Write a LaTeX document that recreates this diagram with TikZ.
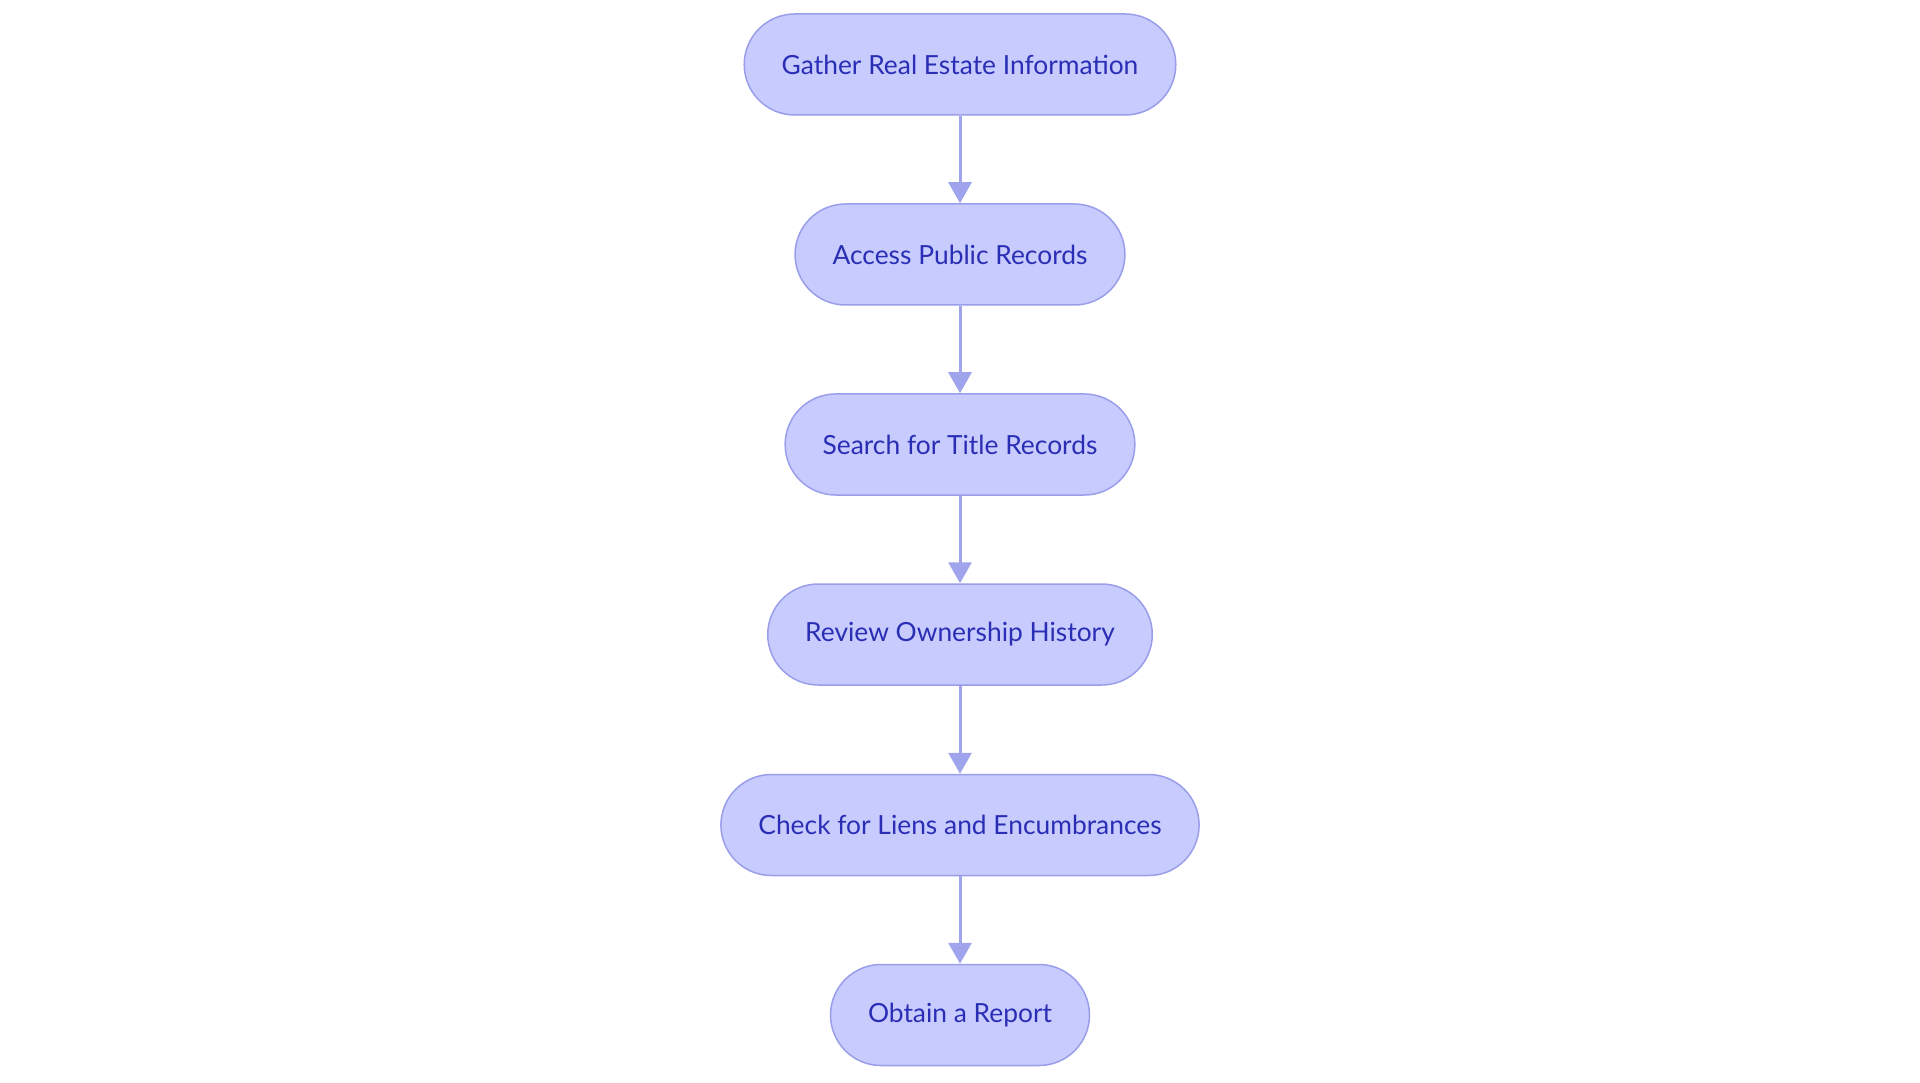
\documentclass[tikz,border=0pt]{standalone}
\usepackage{fontspec}
\setmainfont{Lato}
\usetikzlibrary{shapes, arrows.meta}

\definecolor{stepfill}{HTML}{C8CBFE}
\definecolor{stepdraw}{HTML}{9A9EEA}
\definecolor{steptext}{HTML}{2A2EB4}
\definecolor{steparrow}{HTML}{A0A4EC}

\begin{document}
\begin{tikzpicture}[
    text centered,
	pill/.style={
	  rectangle,
	  rounded corners=1.01cm,
	  minimum height=2.02cm,
	  inner xsep=0.75cm,
	  line width=0.03cm,
	  draw=stepdraw,
	  fill=stepfill,
	  text=steptext,
	  font=\fontsize{15}{18}\selectfont
	},
 	line/.style={draw, steparrow, line width=0.06cm, -{Triangle[width=0.46cm, length=0.42cm]}}
	]
	\useasboundingbox (0, 0) rectangle (38.4, -21.66);
    \node at (19.2, -1.29) [pill] (gather) {Gather Real Estate Information};
	\node at (19.2, -5.09) [pill] (access) {Access Public Records};
	\node at (19.2, -8.89) [pill] (search) {Search for Title Records};
	\node at (19.2, -12.69) [pill] (review) {Review Ownership History};
	\node at (19.2, -16.5) [pill] (check) {Check for Liens and Encumbrances};
	\node at (19.2, -20.3) [pill] (obtain) {Obtain a Report};
	\path[line] (gather) -- (access);
	\path[line] (access) -- (search);
	\path[line] (search) -- (review);
	\path[line] (review) -- (check);
	\path[line] (check) -- (obtain);
  \end{tikzpicture}
\end{document}
